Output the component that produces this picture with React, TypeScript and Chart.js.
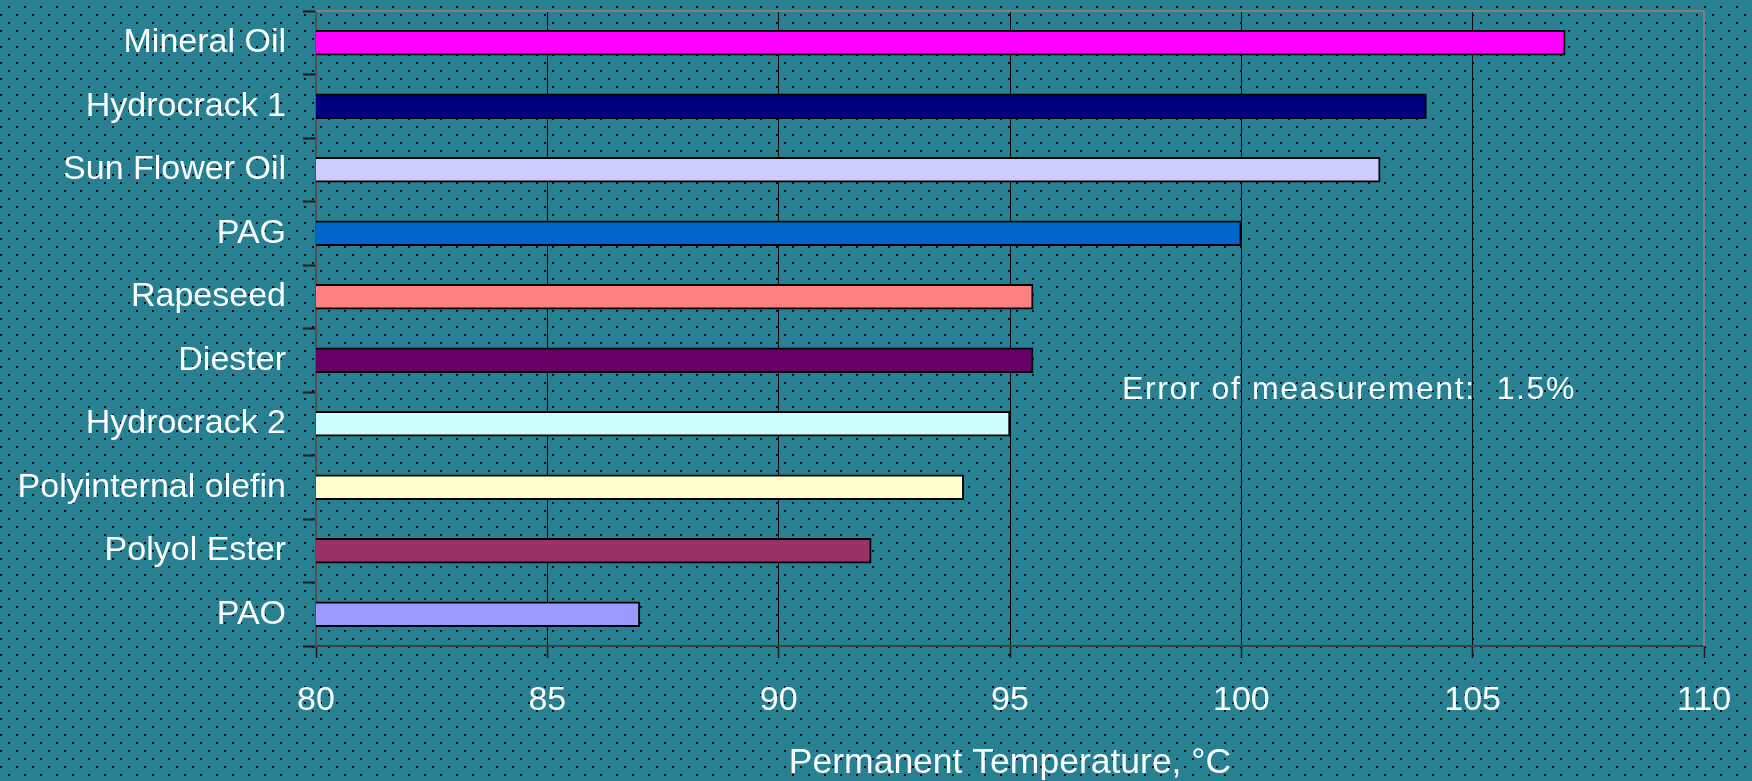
import React, { useEffect, useRef } from 'react';
import { Chart, registerables } from 'chart.js';

Chart.register(...registerables);

// Lubricant base oils and their permanent temperature limits (°C)
const categories = [
  'Mineral Oil',
  'Hydrocrack 1',
  'Sun Flower Oil',
  'PAG',
  'Rapeseed',
  'Diester',
  'Hydrocrack 2',
  'Polyinternal olefin',
  'Polyol Ester',
  'PAO',
];
const temperatures = [107, 104, 103, 100, 95.5, 95.5, 95, 94, 92, 87];
const barColors = [
  '#FF00FF',
  '#000080',
  '#CCCCFF',
  '#0066CC',
  '#FF8080',
  '#660066',
  '#CCFFFF',
  '#FFFFCC',
  '#993366',
  '#9999FF',
];
const axisMin = 80;
const axisMax = 110;
const axisStep = 5;
const axisTitle = 'Permanent Temperature, °C';
const noteText = 'Error of measurement:  1.5%';

const WIDTH = 1752;
const HEIGHT = 781;
const FONT = "'Liberation Sans', Arial, Helvetica, sans-serif";
const TEAL = '#278193';

// Teal background with a staggered black dot texture
function makeDotPattern(ctx: CanvasRenderingContext2D): CanvasPattern | string {
  const tile = document.createElement('canvas');
  tile.width = 16;
  tile.height = 16;
  const t = tile.getContext('2d');
  if (!t) return TEAL;
  t.fillStyle = TEAL;
  t.fillRect(0, 0, 16, 16);
  t.fillStyle = '#000000';
  t.fillRect(8, 6, 2, 2);
  t.fillRect(0, 14, 2, 2);
  return ctx.createPattern(tile, 'repeat') || TEAL;
}

const backgroundPlugin = {
  id: 'dottedBackground',
  beforeDraw(chart: any) {
    const { ctx, width, height } = chart;
    ctx.save();
    ctx.fillStyle = makeDotPattern(ctx);
    ctx.fillRect(0, 0, width, height);
    ctx.restore();
  },
};

// Gray frame on the top and right edges of the plot area
const framePlugin = {
  id: 'plotFrame',
  afterDatasetsDraw(chart: any) {
    const { ctx, chartArea } = chart;
    ctx.save();
    ctx.strokeStyle = '#808080';
    ctx.lineWidth = 2;
    ctx.beginPath();
    ctx.moveTo(chartArea.left, chartArea.top);
    ctx.lineTo(chartArea.right, chartArea.top);
    ctx.lineTo(chartArea.right, chartArea.bottom);
    ctx.stroke();
    ctx.restore();
  },
};

// Measurement-error note inside the plot
const notePlugin = {
  id: 'measurementNote',
  afterDraw(chart: any) {
    const { ctx } = chart;
    ctx.save();
    ctx.fillStyle = '#FFFFFF';
    ctx.font = `32px ${FONT}`;
    (ctx as any).letterSpacing = '1.6px';
    ctx.textAlign = 'left';
    ctx.textBaseline = 'alphabetic';
    ctx.fillText(noteText, 1122, 399);
    ctx.restore();
  },
};

export default function App() {
  const canvasRef = useRef<HTMLCanvasElement | null>(null);

  useEffect(() => {
    document.body.style.margin = '0';
    const canvas = canvasRef.current;
    if (!canvas) return;

    const chart = new Chart(canvas, {
      type: 'bar',
      data: {
        labels: categories,
        datasets: [
          {
            data: temperatures,
            backgroundColor: barColors,
            borderColor: '#000000',
            borderWidth: 2,
            borderSkipped: false,
            barThickness: 25,
          },
        ],
      },
      plugins: [backgroundPlugin, framePlugin, notePlugin],
      options: {
        indexAxis: 'y',
        responsive: false,
        animation: false,
        events: [],
        devicePixelRatio: 1,
        layout: { padding: { top: 11, right: 48, left: 0, bottom: 0 } },
        plugins: {
          legend: { display: false },
          tooltip: { enabled: false },
        },
        scales: {
          x: {
            type: 'linear',
            min: axisMin,
            max: axisMax,
            afterFit(scale: any) {
              scale.height = 135;
              scale.paddingLeft = 0;
              scale.paddingRight = 0;
            },
            ticks: {
              stepSize: axisStep,
              color: '#FFFFFF',
              font: { family: FONT, size: 34 },
              padding: 22,
              maxRotation: 0,
            },
            grid: {
              color: (c: any) =>
                c.tick && (c.tick.value === axisMin || c.tick.value === axisMax)
                  ? 'rgba(0,0,0,0)'
                  : '#000000',
              tickColor: '#1a1a1a',
              lineWidth: 1,
              tickWidth: 1.5,
              tickLength: 12,
            },
            border: { color: '#404040', width: 2 },
            title: {
              display: true,
              text: axisTitle,
              color: '#FFFFFF',
              font: { family: FONT, size: 35.5 },
              padding: { top: 0, bottom: -4 },
            },
          },
          y: {
            type: 'category',
            afterFit(scale: any) {
              scale.width = 316;
              scale.paddingTop = 0;
              scale.paddingBottom = 0;
            },
            ticks: {
              color: '#FFFFFF',
              font: { family: FONT, size: 34 },
              padding: 17,
              autoSkip: false,
            },
            grid: {
              drawOnChartArea: false,
              drawTicks: true,
              tickLength: 13,
              tickColor: '#1a1a1a',
              tickWidth: 2,
            },
            border: { color: '#505050', width: 2 },
          },
        },
      },
    } as any);

    return () => chart.destroy();
  }, []);

  return (
    <canvas
      ref={canvasRef}
      width={WIDTH}
      height={HEIGHT}
      style={{ display: 'block', width: WIDTH, height: HEIGHT }}
    />
  );
}
